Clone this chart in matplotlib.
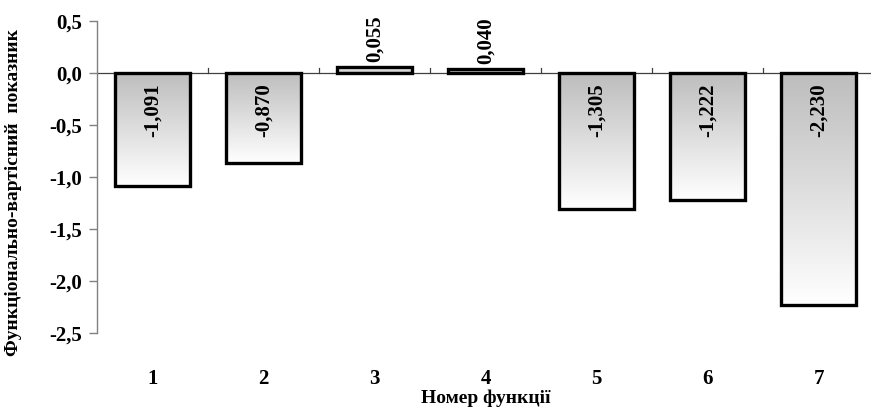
import numpy as np
import matplotlib
matplotlib.use("Agg")
import matplotlib.pyplot as plt
from matplotlib.ticker import FixedLocator, FuncFormatter
from matplotlib.colors import LinearSegmentedColormap

plt.rcParams['font.family'] = ['Liberation Serif', 'DejaVu Serif']
plt.rcParams['font.weight'] = 'bold'

categories = ['1', '2', '3', '4', '5', '6', '7']
values = [-1.091, -0.870, 0.055, 0.040, -1.305, -1.222, -2.230]
value_labels = ['-1,091', '-0,870', '0,055', '0,040', '-1,305', '-1,222', '-2,230']
y_ticks = [0.5, 0.0, -0.5, -1.0, -1.5, -2.0, -2.5]

fig = plt.figure(figsize=(8.71, 4.12), dpi=100)
ax = fig.add_axes([97 / 871, 1 - 333 / 412, (874 - 97) / 871, (333 - 21) / 412])

x = np.arange(len(categories))
width = 0.68
bars = ax.bar(x, values, width=width, facecolor='none', edgecolor='black',
              linewidth=2.4, zorder=3)

cmap = LinearSegmentedColormap.from_list('fade', ['#bdbdbd', '#ffffff'])
grad = np.linspace(0, 1, 256).reshape(-1, 1)
for bar, v in zip(bars, values):
    x0 = bar.get_x()
    x1 = x0 + bar.get_width()
    # gradient runs from grey at the zero line to white at the bar end
    img = ax.imshow(grad, cmap=cmap, aspect='auto', origin='upper',
                    extent=(x0, x1, v, 0) if v < 0 else (x0, x1, 0, v),
                    interpolation='bilinear', zorder=2)
    if v > 0:
        img.set_data(grad[::-1])
    img.set_clip_path(bar)

for xi, v, lab in zip(x, values, value_labels):
    if v < 0:
        ax.text(xi, -0.10, lab, rotation=90, ha='center', va='top',
                fontsize=15, fontweight='bold', zorder=4)
    else:
        ax.text(xi, v + 0.05, lab, rotation=90, ha='center', va='bottom',
                fontsize=15, fontweight='bold', zorder=4)

ax.set_xlim(-0.5, len(categories) - 0.5)
ax.set_ylim(-2.5, 0.5)

# zero baseline with category boundary ticks
ax.axhline(0, color='#404040', linewidth=0.9, zorder=1)
for b in np.arange(0.5, len(categories) - 0.5, 1.0):
    ax.plot([b, b], [0, 0.05], color='#404040', linewidth=0.9, zorder=1)

for s in ['top', 'right', 'bottom']:
    ax.spines[s].set_visible(False)
ax.spines['left'].set_color('#808080')
ax.spines['left'].set_linewidth(1.0)

ax.yaxis.set_major_locator(FixedLocator(y_ticks))
ax.yaxis.set_major_formatter(FuncFormatter(
    lambda v, p: f"{v:.1f}".replace('.', ',').replace('-0,0', '0,0')))
ax.tick_params(axis='y', direction='out', length=6, width=1.0, color='#808080',
               labelsize=15, pad=5)
for t in ax.get_yticklabels():
    t.set_fontweight('bold')

ax.set_xticks(x)
ax.set_xticklabels(categories, fontsize=15, fontweight='bold')
ax.tick_params(axis='x', length=0, pad=26)

fig.text(14 / 871, 1 - 192 / 412, 'Функціонально-вартісний  показник',
         rotation=90, ha='center', va='center', fontsize=14, fontweight='bold')
fig.text(486 / 871, 1 - 398 / 412, 'Номер функції', ha='center', va='center',
         fontsize=14, fontweight='bold')

fig.savefig('out.png', dpi=100)
